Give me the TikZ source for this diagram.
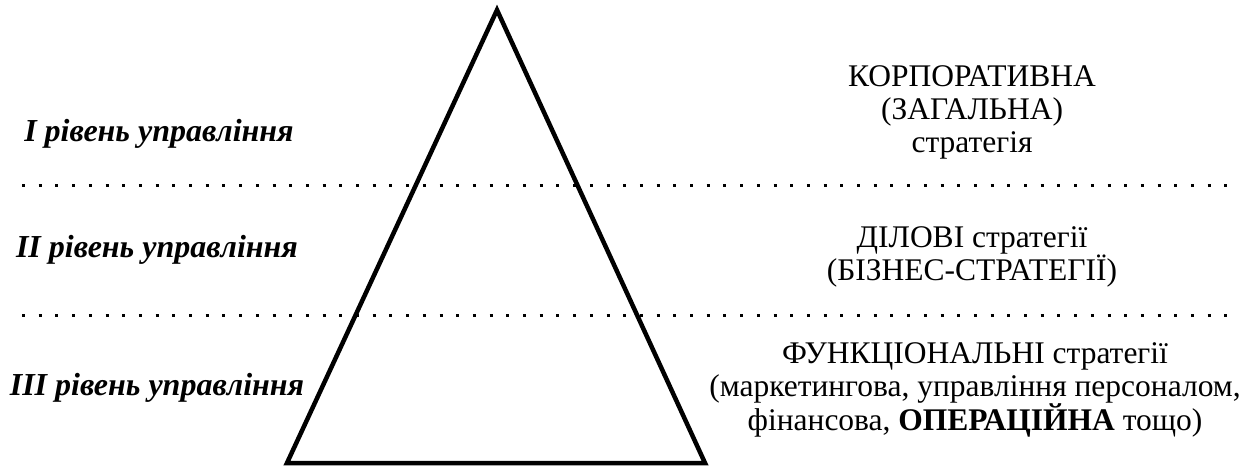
\documentclass[tikz,border=0pt]{standalone}
\usepackage{fontspec}
\setmainfont{Liberation Serif}
\usepackage{tikz}
\usetikzlibrary{positioning}

\begin{document}
\begin{tikzpicture}[x=1pt, y=-1pt,
    level/.style={font=\fontsize{32}{36}\selectfont\bfseries\itshape, inner sep=0pt},
    strat/.style={font=\fontsize{31.5}{33}\selectfont, align=center, inner sep=0pt},
    dotline/.style={line width=3pt, dash pattern=on 3pt off 13.7pt},
    pyr/.style={line width=4.5pt, line join=miter}]
    \useasboundingbox (0,0) rectangle (1249,468);

    % Define nodes
    \coordinate (top) at (497,10);
    \coordinate (bl) at (287,463);
    \coordinate (br) at (705,463);
    \coordinate (d1a) at (22,185);
    \coordinate (d1b) at (1240,185);
    \coordinate (d2a) at (22,315);
    \coordinate (d2b) at (1240,315);

    \node (L1) [level] at (159,134) {I рівень управління};
    \node (L2) [level] at (157,250) {II рівень управління};
    \node (L3) [level] at (157,388) {III рівень управління};

    \node (S1) [strat] at (972,112) {КОРПОРАТИВНА\\(ЗАГАЛЬНА)\\стратегія};
    \node (S2) [strat] at (972,257) {ДІЛОВІ стратегії\\(БІЗНЕС-СТРАТЕГІЇ)};
    \node (S3) [strat] at (975,390) {ФУНКЦІОНАЛЬНІ стратегії\\(маркетингова, управління персоналом,\\фінансова, \textbf{ОПЕРАЦІЙНА} тощо)};

    % Draw edges
    \draw[dotline] (d1a) -- (d1b);
    \draw[dotline] (d2a) -- (d2b);
    \draw[pyr] (top) -- (br) -- (bl) -- cycle;
\end{tikzpicture}
\end{document}
